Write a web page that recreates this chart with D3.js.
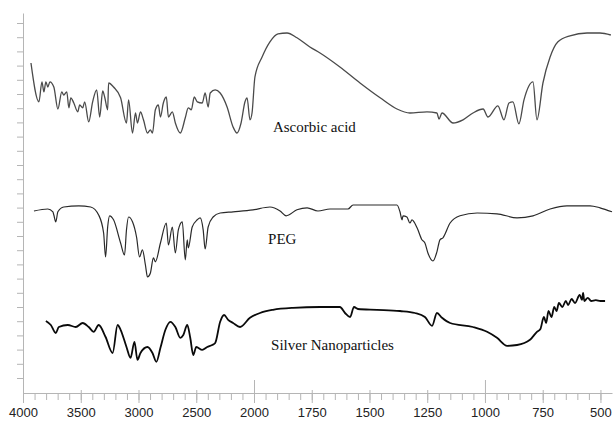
<!DOCTYPE html>
<html>
<head>
<meta charset="utf-8">
<script src="https://cdn.jsdelivr.net/npm/d3@7"></script>
<style>
  html, body { margin: 0; padding: 0; background: #fff; }
  .axis path, .axis line { stroke: #b5b5b5; }
  .axis text { font-family: "Liberation Sans", Arial, sans-serif; font-size: 13px; fill: #222; }
  .label { font-family: "Liberation Serif", "DejaVu Serif", serif; font-size: 15px; fill: #111; }
</style>
</head>
<body>
<div id="chart"></div>
<script>
// FTIR spectra, stacked (wavenumber cm-1, offset transmittance a.u.)
var ascorbic = [
  [3931, 82.5], [3862, 72.8], [3836, 77.8], [3819, 75.3], [3802, 77.8], [3785, 76.5], [3767, 77.8],
  [3733, 76.5], [3698, 71], [3664, 75.3], [3647, 74.5], [3621, 75.3], [3603, 71.3], [3586, 73.8],
  [3560, 72.5], [3526, 70.3], [3509, 72], [3483, 71.3], [3466, 72.8], [3431, 67.8], [3397, 72.8],
  [3362, 75.8], [3336, 69], [3310, 75.5], [3293, 74], [3267, 70.8], [3259, 77.5], [3216, 76.5],
  [3155, 73.8], [3104, 67.5], [3086, 73.3], [3052, 65], [3026, 70], [3009, 67.5], [2983, 70.3],
  [2957, 68.3], [2922, 65], [2897, 65.8], [2879, 65], [2854, 70.8], [2828, 72], [2810, 69],
  [2785, 72.5], [2759, 74], [2741, 69], [2707, 70.3], [2681, 67.5], [2638, 65], [2595, 68.8],
  [2569, 71.3], [2543, 70.8], [2517, 74], [2491, 72.8], [2448, 72.5], [2423, 75], [2397, 71.5],
  [2379, 75], [2336, 75.8], [2293, 75], [2233, 71.5], [2181, 66.5], [2147, 65], [2112, 67.5],
  [2078, 72.8], [2060, 73.8], [2035, 68.3], [2017, 70], [1996, 79], [1965, 84], [1931, 87.8],
  [1896, 89.8], [1857, 90], [1814, 88.8], [1758, 86.5], [1714, 85], [1628, 81.5], [1541, 77.5],
  [1454, 73.8], [1381, 71], [1325, 70], [1251, 70.3], [1208, 70], [1199, 68.5], [1186, 70],
  [1138, 67.5], [1095, 68.3], [1052, 70], [1008, 71], [987, 69], [944, 71.8], [918, 68.3],
  [896, 72.5], [879, 72.8], [853, 67.3], [831, 73.3], [792, 77.8], [775, 68.3], [749, 77.5],
  [718, 84], [684, 87.8], [632, 89.3], [558, 90], [502, 90], [455, 89.5]
]

var peg = [
  [3905, 45.5], [3785, 46], [3741, 45.3], [3733, 44.5], [3716, 42.8], [3698, 45.3], [3647, 46.5],
  [3517, 46.8], [3414, 46.5], [3345, 44.5], [3302, 40], [3285, 34], [3267, 41.5], [3250, 44.3],
  [3216, 43.3], [3155, 37.5], [3121, 34.5], [3104, 40.8], [3086, 44], [3052, 42.8], [3017, 39],
  [2991, 34], [2966, 35.8], [2940, 32], [2922, 29], [2897, 30], [2871, 33.8], [2854, 32.8],
  [2810, 37.5], [2759, 42.5], [2741, 37], [2707, 41.5], [2681, 35], [2655, 40.8], [2621, 42.8],
  [2595, 33.3], [2578, 38.3], [2569, 36.3], [2535, 41.5], [2491, 43.3], [2466, 43.8], [2440, 40.8],
  [2423, 36], [2397, 41.5], [2354, 44], [2293, 45], [2181, 45.3], [2009, 45.8], [1931, 46.5],
  [1887, 45.5], [1861, 44.3], [1814, 45.8], [1770, 46.3], [1723, 45.5], [1671, 46], [1593, 46],
  [1571, 47], [1467, 47], [1381, 47], [1368, 45.3], [1359, 43.3], [1355, 44.3], [1338, 44],
  [1325, 42.5], [1316, 43.3], [1294, 41.3], [1273, 38.3], [1260, 37.5], [1247, 35], [1225, 33],
  [1208, 35.3], [1195, 38.3], [1182, 38.8], [1151, 42.5], [1108, 44.3], [1034, 45], [948, 44.8],
  [861, 43.8], [792, 44.3], [718, 46], [645, 46.8], [545, 46.8], [502, 46.3], [450, 45.3]
]

var silver = [
  [3802, 18], [3759, 17], [3716, 15], [3690, 16.5], [3612, 17], [3543, 16.5], [3483, 17.5],
  [3431, 16.5], [3388, 15.3], [3345, 17], [3285, 14], [3224, 10], [3181, 17], [3155, 15.8],
  [3104, 11.5], [3069, 8.8], [3035, 12.8], [3009, 8.3], [2983, 10], [2922, 11.5], [2879, 10],
  [2845, 7.8], [2810, 11.3], [2767, 15.8], [2724, 17.8], [2681, 16.5], [2638, 13.8], [2612, 14.5],
  [2578, 17], [2552, 13.8], [2526, 9.5], [2500, 11.5], [2448, 10.8], [2405, 11.5], [2362, 12],
  [2336, 12.5], [2293, 17.8], [2259, 19.5], [2224, 18.3], [2181, 17.5], [2121, 16.5], [2035, 18.8],
  [1974, 20], [1918, 20.8], [1831, 21.3], [1714, 21.5], [1628, 21.5], [1606, 20], [1584, 19],
  [1567, 21.5], [1550, 21], [1467, 20.8], [1368, 20.5], [1303, 20], [1260, 19], [1229, 16.8],
  [1208, 20], [1186, 18.8], [1151, 17.5], [1052, 16.5], [991, 15.3], [948, 13.8], [904, 11.8],
  [861, 12], [805, 13.3], [775, 15.3], [760, 16], [745, 19], [735, 17.5], [725, 20.5], [712, 19],
  [700, 21.5], [690, 20.5], [680, 22.5], [665, 21.5], [650, 23], [640, 22], [625, 23.5],
  [610, 22.5], [590, 24.5], [580, 23.3], [575, 25], [570, 23], [555, 23.8], [540, 23],
  [520, 23.2], [500, 23], [480, 23]
]

var seriesNames = ['Ascorbic acid', 'PEG', 'Silver Nanoparticles']
var seriesData = [ascorbic, peg, silver]
var seriesColors = ['#4a4a4a', '#2a2a2a', '#0a0a0a']
var seriesWidths = [1.3, 1.2, 1.8]
// label anchor (wavenumber, value)
var labelPos = [[1918, 65.3], [1939, 37.3], [1926, 10.8]]

var xMajor = [4000, 3500, 3000, 2500, 2000, 1750, 1500, 1250, 1000, 750, 500]
var xMinor = d3.range(3900, 2000, -100).concat(d3.range(1950, 450, -50))
var yTicks = d3.range(3.75, 95, 3.55)

var W = 613, H = 421
var x = d3.scaleLinear().domain([4000, 2000, 450]).range([23, 254, 612])
var y = d3.scaleLinear().domain([0, 95]).range([393, 13])

var svg = d3.select('#chart').append('svg')
  .attr('width', W)
  .attr('height', H)

var xMinorAxis = d3.axisBottom(x).tickValues(xMinor).tickSize(7).tickSizeOuter(0).tickFormat('')
var xAxis = d3.axisBottom(x).tickValues(xMajor).tickSize(10).tickSizeOuter(0).tickPadding(5)
  .tickFormat(d3.format('d'))
var yAxis = d3.axisLeft(y).tickValues(yTicks).tickSize(6).tickSizeOuter(0).tickFormat('')

svg.append('g')
  .attr('class', 'axis')
  .attr('transform', `translate(0,${y(0)})`)
  .call(xMinorAxis)

var gx = svg.append('g')
  .attr('class', 'axis')
  .attr('transform', `translate(0,${y(0)})`)
  .call(xAxis)
gx.selectAll('.tick line')
  .attr('y1', d => (d === 2000 || d === 1000) ? -13 : -3)
gx.select('.domain').remove()

svg.append('g')
  .attr('class', 'axis')
  .attr('transform', `translate(${x(4000)},0)`)
  .call(yAxis)

var line = d3.line()
  .x(d => x(d[0]))
  .y(d => y(d[1]))
  .curve(d3.curveMonotoneX)

svg.selectAll('.spectrum').data(seriesData)
  .enter().append('path')
  .attr('class', 'spectrum')
  .attr('d', line)
  .attr('fill', 'none')
  .attr('stroke', (d, i) => seriesColors[i])
  .attr('stroke-width', (d, i) => seriesWidths[i])
  .attr('stroke-linejoin', 'round')

svg.selectAll('.label').data(seriesNames)
  .enter().append('text')
  .attr('class', 'label')
  .attr('x', (d, i) => x(labelPos[i][0]))
  .attr('y', (d, i) => y(labelPos[i][1]))
  .text(d => d)
</script>
</body>
</html>
